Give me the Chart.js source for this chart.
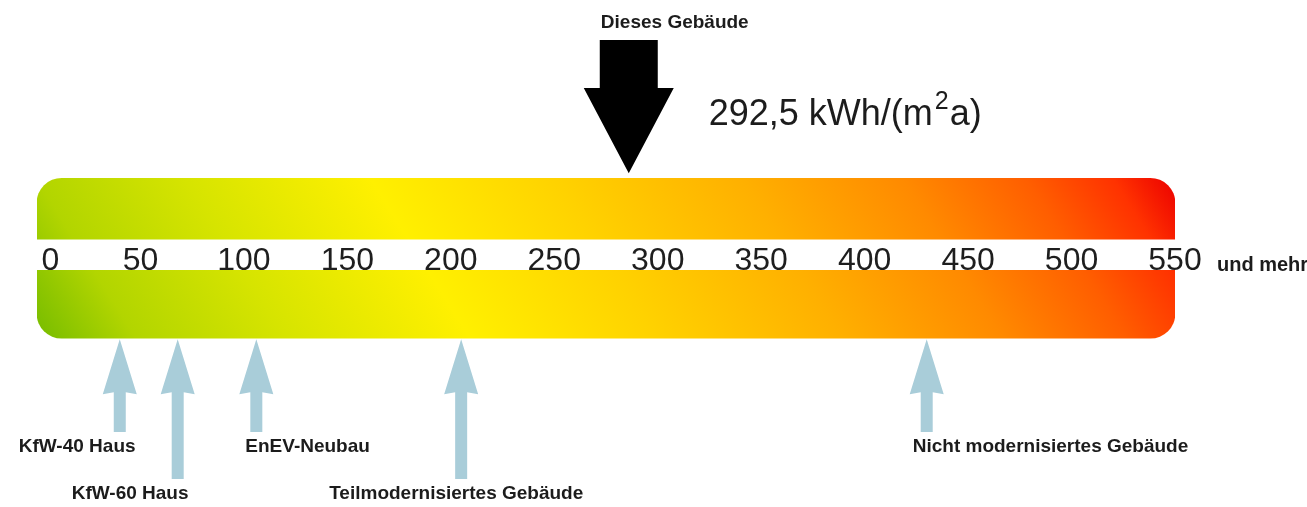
<!DOCTYPE html>
<html lang="de">
<head>
<meta charset="utf-8">
<title>Energieverbrauch</title>
<script src="https://cdn.jsdelivr.net/npm/chart.js@4.4.1/dist/chart.umd.min.js"></script>
<style>
  html, body { margin: 0; padding: 0; background: #fff; }
  #wrap { width: 1307px; height: 507px; position: relative; }
</style>
</head>
<body>
<div id="wrap"><canvas id="chart"></canvas></div>
<script>
// Skala
const scaleMin = 0;
const scaleMax = 550;
const tickValues = [0, 50, 100, 150, 200, 250, 300, 350, 400, 450, 500, 550];
const tickLabels = ['0', '50', '100', '150', '200', '250', '300', '350', '400', '450', '500', '550'];
const scaleSuffix = 'und mehr';

// Balken (zwei Hälften, dazwischen die Skala)
const bandLabels = ['oben', 'unten'];
const bandRange = [scaleMin, scaleMax];

// Dieses Gebäude
const thisBuildingLabel = 'Dieses Gebäude';
const thisBuildingValue = 286; // Pfeilspitze
const thisBuildingText = '292,5 kWh/(m²a)';

// Vergleichswerte
const refNames = ['KfW-40 Haus', 'KfW-60 Haus', 'EnEV-Neubau', 'Teilmodernisiertes Gebäude', 'Nicht modernisiertes Gebäude'];
const refValues = [40, 68, 106, 205, 430];

// Layout
const bandThickness = [61, 68];
const refLong = [false, true, false, true, false];
const refLabelDx = [-101, -106, -11, -132, -14];
const labelFont = 'bold 19px "Liberation Sans", Arial, sans-serif';
const textColor = '#1c1c1c';
const refColor = '#a9cdd9';

function barGradient(chart) {
  const area = chart.chartArea;
  if (!area) return '#ffe600';
  const xs = chart.scales.x, ys = chart.scales.y;
  const left = xs.getPixelForValue(scaleMin);
  const right = xs.getPixelForValue(scaleMax);
  const top = ys.getPixelForValue(0) - bandThickness[0] / 2;
  const bottom = ys.getPixelForValue(1) + bandThickness[1] / 2;
  const dx = 0.848, dy = -0.53;
  const len = (right - left) * dx + (bottom - top) * -dy;
  const g = chart.ctx.createLinearGradient(left, bottom, left + dx * len, bottom + dy * len);
  g.addColorStop(0, '#76bc00');
  g.addColorStop(0.08, '#b2d500');
  g.addColorStop(0.2, '#d6e400');
  g.addColorStop(0.35, '#fff000');
  g.addColorStop(0.5, '#ffd200');
  g.addColorStop(0.65, '#ffb000');
  g.addColorStop(0.78, '#ff8a00');
  g.addColorStop(0.88, '#ff5e00');
  g.addColorStop(0.95, '#ff3200');
  g.addColorStop(1, '#ec0000');
  return g;
}

const markers = {
  id: 'markers',
  afterDraw(chart) {
    const ctx = chart.ctx;
    const xs = chart.scales.x, ys = chart.scales.y;
    const barTop = ys.getPixelForValue(0) - bandThickness[0] / 2;
    const barBottom = ys.getPixelForValue(1) + bandThickness[1] / 2;
    ctx.save();

    // schwarzer Pfeil
    const ax = xs.getPixelForValue(thisBuildingValue);
    ctx.fillStyle = '#000';
    ctx.beginPath();
    ctx.moveTo(ax - 29, 40);
    ctx.lineTo(ax + 29, 40);
    ctx.lineTo(ax + 29, 88);
    ctx.lineTo(ax + 45, 88);
    ctx.lineTo(ax, barTop - 5);
    ctx.lineTo(ax - 45, 88);
    ctx.lineTo(ax - 29, 88);
    ctx.closePath();
    ctx.fill();

    ctx.fillStyle = textColor;
    ctx.font = labelFont;
    ctx.textAlign = 'center';
    ctx.textBaseline = 'alphabetic';
    ctx.fillText(thisBuildingLabel, ax + 46, 28);

    // Wert mit hochgestellter 2
    const parts = thisBuildingText.split('²');
    const big = '36px "Liberation Sans", Arial, sans-serif';
    const small = '25px "Liberation Sans", Arial, sans-serif';
    let tx = ax + 80;
    ctx.textAlign = 'left';
    ctx.font = big;
    ctx.fillText(parts[0], tx, 125);
    tx += ctx.measureText(parts[0]).width + 2;
    ctx.font = small;
    ctx.fillText('2', tx, 109);
    tx += ctx.measureText('2').width + 1;
    ctx.font = big;
    ctx.fillText(parts[1], tx, 125);

    // "und mehr"
    ctx.font = 'bold 20px "Liberation Sans", Arial, sans-serif';
    ctx.fillText(scaleSuffix, xs.getPixelForValue(scaleMax) + 42, 271);

    // blaue Pfeile
    refValues.forEach((v, i) => {
      const x = xs.getPixelForValue(v);
      const tip = barBottom + 1;
      const end = refLong[i] ? 479 : 432;
      ctx.fillStyle = refColor;
      ctx.beginPath();
      ctx.moveTo(x, tip);
      ctx.lineTo(x + 17, tip + 55);
      ctx.lineTo(x + 6, tip + 53);
      ctx.lineTo(x + 6, end);
      ctx.lineTo(x - 6, end);
      ctx.lineTo(x - 6, tip + 53);
      ctx.lineTo(x - 17, tip + 55);
      ctx.closePath();
      ctx.fill();

      ctx.fillStyle = textColor;
      ctx.font = labelFont;
      ctx.textAlign = 'left';
      ctx.textBaseline = 'middle';
      ctx.fillText(refNames[i], x + refLabelDx[i], end + 15);
    });
    ctx.restore();
  }
};

new Chart(document.getElementById('chart'), {
  type: 'bar',
  data: {
    labels: bandLabels,
    datasets: [
      {
        label: bandLabels[0],
        data: [bandRange, null],
        backgroundColor: (c) => barGradient(c.chart),
        barThickness: bandThickness[0],
        borderSkipped: false,
        borderRadius: { topLeft: 25, topRight: 25, bottomLeft: 0, bottomRight: 0 },
        grouped: false
      },
      {
        label: bandLabels[1],
        data: [null, bandRange],
        backgroundColor: (c) => barGradient(c.chart),
        barThickness: bandThickness[1],
        borderSkipped: false,
        borderRadius: { topLeft: 0, topRight: 0, bottomLeft: 25, bottomRight: 25 },
        grouped: false
      }
    ]
  },
  options: {
    indexAxis: 'y',
    responsive: true,
    maintainAspectRatio: false,
    animation: false,
    layout: { padding: { left: 37, right: 132, top: 161, bottom: 155 } },
    plugins: {
      legend: { display: false },
      tooltip: { enabled: false }
    },
    scales: {
      y: {
        type: 'category',
        display: false
      },
      x: {
        type: 'linear',
        min: scaleMin,
        max: scaleMax,
        position: { y: 0.5 },
        z: 1,
        afterFit: (scale) => { scale.height = 0; },
        afterBuildTicks: (scale) => { scale.ticks = tickValues.map(v => ({ value: v })); },
        grid: { display: false, drawTicks: false },
        border: { display: false },
        ticks: {
          padding: -15,
          maxRotation: 0,
          autoSkip: false,
          color: '#1e1e1e',
          font: { family: '"Liberation Sans", Arial, sans-serif', size: 32 },
          callback: (v) => {
            const i = tickValues.indexOf(v);
            return i === 0 ? '\u00a0\u00a0\u00a0' + tickLabels[i] : tickLabels[i];
          }
        }
      }
    }
  },
  plugins: [markers]
});
</script>
</body>
</html>
